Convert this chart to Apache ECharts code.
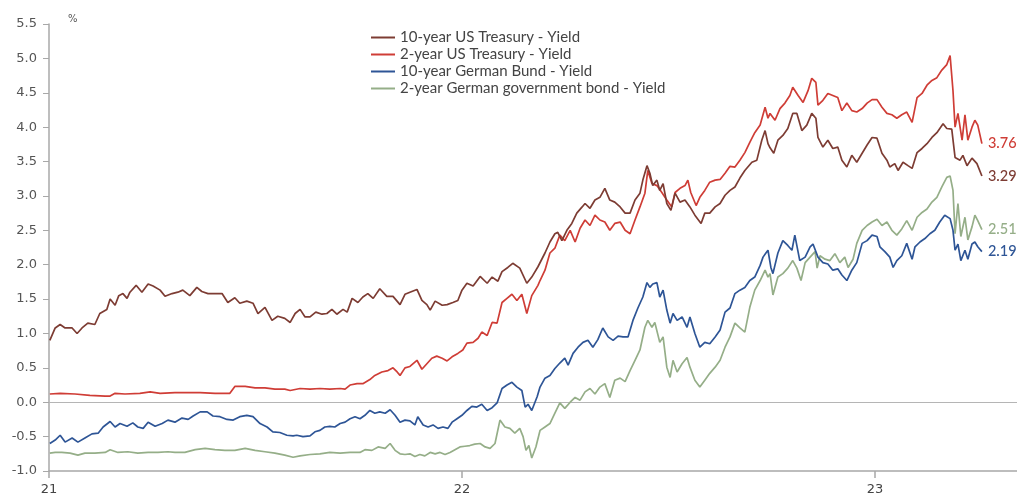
<!DOCTYPE html>
<html>
<head>
<meta charset="utf-8">
<script src="https://cdn.jsdelivr.net/npm/echarts@6/dist/echarts.min.js"></script>
<style>
html,body{margin:0;padding:0;background:#fff;}
#chart{width:1017px;height:498px;}
</style>
</head>
<body>
<div id="chart"></div>
<script>
// x values: years since 1 Jan 2021; y values: yield in %
const baseYear = 2021;
const seriesNames = ['10-year US Treasury - Yield', '2-year US Treasury - Yield', '10-year German Bund - Yield', '2-year German government bond - Yield'];
const xTickLabels = [2021, 2022, 2023];
const yTicks = { min: -1, max: 5.5, step: 0.5 };

const us10y = [[.002,.90],[.015,1.08],[.027,1.13],[.039,1.08],[.056,1.08],[.068,1.00],[.080,1.08],[.094,1.15],[.111,1.13],[.123,1.29],[.140,1.35],[.148,1.50],[.160,1.41],[.169,1.55],[.179,1.58],[.189,1.51],[.196,1.60],[.211,1.70],[.225,1.60],[.240,1.72],[.252,1.69],[.269,1.63],[.281,1.54],[.298,1.58],[.312,1.60],[.324,1.63],[.341,1.55],[.358,1.67],[.370,1.61],[.385,1.58],[.402,1.58],[.419,1.58],[.433,1.45],[.450,1.52],[.462,1.44],[.479,1.47],[.494,1.44],[.506,1.29],[.523,1.38],[.540,1.19],[.554,1.25],[.571,1.22],[.584,1.16],[.596,1.29],[.608,1.35],[.620,1.24],[.632,1.24],[.646,1.31],[.661,1.28],[.673,1.29],[.685,1.35],[.697,1.28],[.712,1.35],[.722,1.31],[.734,1.51],[.748,1.45],[.760,1.53],[.772,1.58],[.785,1.51],[.801,1.65],[.818,1.54],[.833,1.54],[.850,1.42],[.862,1.57],[.874,1.60],[.891,1.64],[.903,1.48],[.915,1.42],[.923,1.34],[.935,1.47],[.952,1.41],[.964,1.42],[.978,1.45],[.990,1.48],[1.000,1.63],[1.012,1.73],[1.027,1.69],[1.044,1.83],[1.061,1.73],[1.073,1.82],[1.087,1.76],[1.097,1.90],[1.111,1.96],[1.123,2.02],[1.140,1.95],[1.157,1.73],[1.169,1.82],[1.184,1.97],[1.201,2.17],[1.213,2.33],[1.225,2.45],[1.232,2.47],[1.242,2.35],[1.254,2.50],[1.266,2.60],[1.278,2.75],[1.291,2.84],[1.298,2.89],[1.310,2.82],[1.322,2.94],[1.334,2.98],[1.346,3.11],[1.358,2.94],[1.370,2.91],[1.383,2.84],[1.395,2.75],[1.407,2.75],[1.419,2.94],[1.431,3.04],[1.438,3.23],[1.448,3.44],[1.455,3.33],[1.462,3.15],[1.472,3.23],[1.479,3.08],[1.487,3.18],[1.496,2.89],[1.506,2.79],[1.516,3.04],[1.528,2.91],[1.540,2.94],[1.552,2.84],[1.564,2.72],[1.579,2.60],[1.588,2.75],[1.600,2.75],[1.613,2.84],[1.625,2.89],[1.637,3.01],[1.649,3.08],[1.661,3.13],[1.673,3.26],[1.685,3.37],[1.702,3.49],[1.714,3.52],[1.726,3.81],[1.734,3.95],[1.741,3.76],[1.746,3.70],[1.755,3.62],[1.765,3.81],[1.777,3.88],[1.789,3.98],[1.801,4.20],[1.811,4.20],[1.823,3.95],[1.835,4.03],[1.847,4.20],[1.857,4.13],[1.862,3.85],[1.874,3.71],[1.886,3.81],[1.898,3.69],[1.910,3.71],[1.920,3.52],[1.932,3.42],[1.944,3.59],[1.956,3.49],[1.969,3.62],[1.981,3.74],[1.993,3.85],[2.005,3.84],[2.017,3.62],[2.029,3.52],[2.036,3.42],[2.048,3.47],[2.056,3.37],[2.068,3.49],[2.080,3.44],[2.090,3.40],[2.102,3.63],[2.114,3.69],[2.126,3.76],[2.138,3.85],[2.150,3.92],[2.165,4.05],[2.174,3.98],[2.186,3.97],[2.194,3.56],[2.206,3.52],[2.213,3.59],[2.223,3.44],[2.235,3.55],[2.247,3.47],[2.259,3.29]];

const us2y = [[.002,.12],[.027,.13],[.063,.12],[.099,.10],[.136,.09],[.148,.09],[.160,.13],[.184,.12],[.220,.13],[.245,.15],[.269,.13],[.305,.14],[.329,.14],[.366,.14],[.402,.13],[.438,.13],[.450,.23],[.475,.23],[.499,.21],[.523,.21],[.547,.19],[.571,.19],[.584,.17],[.608,.20],[.632,.19],[.656,.20],[.680,.19],[.705,.20],[.717,.19],[.729,.25],[.746,.27],[.760,.27],[.777,.33],[.789,.39],[.806,.44],[.821,.46],[.833,.50],[.843,.44],[.850,.39],[.862,.50],[.874,.52],[.891,.61],[.903,.48],[.915,.56],[.927,.64],[.939,.67],[.952,.64],[.964,.60],[.976,.66],[.990,.71],[1.002,.76],[1.012,.86],[1.027,.87],[1.039,.93],[1.048,1.02],[1.061,.97],[1.073,1.16],[1.085,1.15],[1.097,1.45],[1.109,1.51],[1.121,1.57],[1.133,1.48],[1.145,1.57],[1.157,1.29],[1.169,1.55],[1.184,1.70],[1.189,1.77],[1.201,1.92],[1.213,2.17],[1.225,2.24],[1.237,2.43],[1.249,2.35],[1.262,2.50],[1.274,2.33],[1.286,2.53],[1.298,2.65],[1.310,2.57],[1.322,2.72],[1.334,2.65],[1.346,2.62],[1.358,2.50],[1.370,2.60],[1.383,2.62],[1.395,2.50],[1.407,2.45],[1.419,2.65],[1.431,2.84],[1.443,3.04],[1.450,3.37],[1.460,3.18],[1.472,3.15],[1.484,3.05],[1.496,2.94],[1.508,2.84],[1.516,3.05],[1.528,3.11],[1.540,3.15],[1.547,3.23],[1.554,3.05],[1.567,2.86],[1.576,2.98],[1.588,3.08],[1.600,3.20],[1.613,3.23],[1.625,3.24],[1.637,3.33],[1.649,3.43],[1.661,3.42],[1.673,3.52],[1.685,3.63],[1.697,3.78],[1.709,3.92],[1.722,4.03],[1.734,4.29],[1.741,4.13],[1.746,4.20],[1.758,4.10],[1.770,4.27],[1.782,4.35],[1.794,4.46],[1.801,4.58],[1.814,4.46],[1.826,4.36],[1.838,4.53],[1.847,4.71],[1.857,4.65],[1.862,4.32],[1.874,4.39],[1.886,4.49],[1.898,4.46],[1.910,4.43],[1.920,4.24],[1.932,4.35],[1.944,4.24],[1.956,4.22],[1.969,4.27],[1.981,4.35],[1.993,4.40],[2.005,4.40],[2.017,4.29],[2.029,4.20],[2.041,4.18],[2.053,4.13],[2.065,4.18],[2.077,4.22],[2.090,4.07],[2.102,4.43],[2.114,4.49],[2.126,4.61],[2.138,4.68],[2.150,4.72],[2.162,4.83],[2.174,4.91],[2.182,5.04],[2.189,4.53],[2.194,4.00],[2.201,4.20],[2.211,3.81],[2.218,4.18],[2.225,3.81],[2.235,4.00],[2.242,4.10],[2.249,4.03],[2.259,3.76]];

const de10y = [[.002,-.60],[.015,-.55],[.027,-.48],[.039,-.58],[.056,-.52],[.070,-.58],[.087,-.52],[.104,-.46],[.119,-.45],[.131,-.36],[.148,-.28],[.160,-.36],[.172,-.31],[.189,-.35],[.203,-.30],[.215,-.36],[.228,-.38],[.240,-.29],[.257,-.35],[.274,-.31],[.288,-.26],[.305,-.29],[.322,-.23],[.337,-.25],[.349,-.20],[.366,-.14],[.383,-.14],[.397,-.20],[.414,-.21],[.431,-.25],[.446,-.26],[.462,-.21],[.479,-.19],[.494,-.21],[.511,-.31],[.528,-.36],[.542,-.43],[.559,-.44],[.576,-.48],[.591,-.49],[.600,-.48],[.615,-.50],[.632,-.49],[.644,-.43],[.656,-.41],[.668,-.36],[.680,-.35],[.692,-.36],[.705,-.31],[.717,-.29],[.729,-.24],[.741,-.21],[.753,-.24],[.765,-.19],[.777,-.12],[.789,-.16],[.801,-.14],[.814,-.16],[.826,-.11],[.838,-.19],[.850,-.29],[.862,-.26],[.874,-.27],[.886,-.33],[.893,-.21],[.906,-.33],[.918,-.36],[.930,-.33],[.942,-.38],[.954,-.36],[.966,-.38],[.976,-.29],[.988,-.24],[1.000,-.19],[1.012,-.12],[1.024,-.06],[1.036,-.07],[1.048,-.03],[1.061,-.12],[1.073,-.08],[1.085,-.01],[1.097,.20],[1.109,.25],[1.121,.29],[1.133,.22],[1.145,.17],[1.153,-.07],[1.160,-.03],[1.169,-.12],[1.182,.08],[1.189,.22],[1.201,.35],[1.213,.39],[1.225,.49],[1.237,.57],[1.249,.64],[1.257,.54],[1.269,.71],[1.281,.80],[1.293,.87],[1.305,.90],[1.317,.80],[1.329,.91],[1.341,1.08],[1.354,.95],[1.366,.90],[1.378,.96],[1.390,.95],[1.402,.95],[1.414,1.19],[1.426,1.37],[1.438,1.53],[1.448,1.74],[1.455,1.67],[1.462,1.72],[1.472,1.74],[1.479,1.53],[1.487,1.63],[1.496,1.34],[1.504,1.15],[1.511,1.29],[1.521,1.19],[1.533,1.24],[1.545,1.09],[1.552,1.24],[1.564,1.00],[1.576,.80],[1.588,.87],[1.600,.85],[1.613,.95],[1.625,1.05],[1.637,1.31],[1.649,1.37],[1.661,1.58],[1.673,1.63],[1.685,1.67],[1.697,1.77],[1.709,1.82],[1.722,1.99],[1.729,2.11],[1.736,2.17],[1.741,2.21],[1.748,1.96],[1.753,1.87],[1.765,2.17],[1.777,2.35],[1.789,2.28],[1.799,2.21],[1.806,2.43],[1.818,2.06],[1.831,2.11],[1.843,2.26],[1.850,2.30],[1.862,2.11],[1.874,2.03],[1.886,2.01],[1.898,1.92],[1.910,1.94],[1.920,1.85],[1.932,1.77],[1.944,1.92],[1.956,2.03],[1.969,2.31],[1.981,2.35],[1.993,2.43],[2.005,2.41],[2.012,2.26],[2.024,2.19],[2.036,2.11],[2.044,1.96],[2.053,2.06],[2.065,2.13],[2.077,2.31],[2.090,2.08],[2.097,2.26],[2.109,2.33],[2.121,2.38],[2.133,2.45],[2.145,2.50],[2.157,2.62],[2.169,2.72],[2.182,2.67],[2.189,2.50],[2.194,2.21],[2.201,2.30],[2.208,2.06],[2.218,2.21],[2.225,2.08],[2.235,2.30],[2.242,2.33],[2.249,2.26],[2.259,2.19]];

const de2y = [[.002,-.74],[.015,-.73],[.031,-.73],[.051,-.74],[.070,-.77],[.087,-.74],[.111,-.74],[.136,-.73],[.148,-.69],[.167,-.73],[.191,-.72],[.215,-.74],[.240,-.73],[.264,-.73],[.288,-.72],[.305,-.73],[.329,-.73],[.354,-.69],[.378,-.67],[.402,-.69],[.426,-.70],[.450,-.70],[.475,-.67],[.499,-.70],[.523,-.72],[.547,-.74],[.571,-.77],[.591,-.80],[.608,-.78],[.632,-.76],[.656,-.75],[.680,-.73],[.705,-.74],[.729,-.73],[.753,-.73],[.765,-.69],[.782,-.70],[.797,-.65],[.814,-.67],[.826,-.60],[.838,-.70],[.850,-.75],[.862,-.76],[.874,-.75],[.886,-.79],[.898,-.76],[.910,-.78],[.923,-.73],[.935,-.75],[.947,-.73],[.959,-.76],[.971,-.73],[.983,-.69],[.995,-.65],[1.007,-.64],[1.019,-.63],[1.031,-.61],[1.044,-.60],[1.056,-.65],[1.068,-.67],[1.080,-.60],[1.092,-.26],[1.104,-.36],[1.116,-.38],[1.128,-.45],[1.140,-.38],[1.148,-.50],[1.155,-.70],[1.162,-.63],[1.169,-.81],[1.179,-.65],[1.189,-.41],[1.201,-.36],[1.213,-.31],[1.225,-.16],[1.237,-.01],[1.249,-.09],[1.262,.00],[1.274,.07],[1.286,.03],[1.298,.15],[1.310,.20],[1.322,.12],[1.334,.22],[1.346,.27],[1.358,.07],[1.370,.32],[1.383,.35],[1.395,.30],[1.407,.46],[1.419,.61],[1.431,.76],[1.443,1.09],[1.450,1.19],[1.460,1.09],[1.467,1.16],[1.479,.87],[1.487,.95],[1.496,.51],[1.504,.36],[1.511,.61],[1.521,.44],[1.533,.56],[1.545,.65],[1.552,.51],[1.564,.32],[1.576,.22],[1.588,.32],[1.600,.42],[1.613,.51],[1.625,.61],[1.637,.80],[1.649,.95],[1.661,1.15],[1.673,1.08],[1.685,1.02],[1.697,1.38],[1.709,1.63],[1.722,1.77],[1.734,1.92],[1.741,1.82],[1.746,1.87],[1.753,1.56],[1.765,1.82],[1.777,1.87],[1.789,1.95],[1.801,2.06],[1.811,1.95],[1.821,1.77],[1.831,2.03],[1.843,2.11],[1.855,2.19],[1.860,1.95],[1.867,2.13],[1.879,2.08],[1.891,2.06],[1.903,2.16],[1.915,2.03],[1.927,2.11],[1.935,1.96],[1.947,2.08],[1.956,2.31],[1.969,2.50],[1.981,2.57],[1.993,2.62],[2.005,2.66],[2.017,2.57],[2.029,2.62],[2.041,2.50],[2.053,2.43],[2.065,2.52],[2.077,2.64],[2.090,2.50],[2.102,2.69],[2.114,2.76],[2.126,2.81],[2.138,2.91],[2.150,2.98],[2.162,3.13],[2.174,3.27],[2.182,3.29],[2.189,3.08],[2.194,2.45],[2.201,2.89],[2.208,2.41],[2.218,2.69],[2.225,2.36],[2.235,2.55],[2.242,2.72],[2.249,2.64],[2.259,2.51]];

const seriesData = [us10y, us2y, de10y, de2y];
const colors = ['#7d3c33', '#cf3d36', '#2e5596', '#95ae88'];

const chart = echarts.init(document.getElementById('chart'), null, { renderer: 'canvas' });
const labelFont = 'Lato';
const series = seriesNames.map((name, i) => ({
  name,
  type: 'line',
  data: seriesData[i].map(p => [baseYear + p[0], p[1]]),
  showSymbol: false,
  symbol: 'none',
  lineStyle: { color: colors[i], width: 1.7 },
  itemStyle: { color: colors[i] },
  z: 10 - i,
  endLabel: {
    show: true,
    formatter: p => p.value[1].toFixed(2),
    color: colors[i],
    fontFamily: labelFont,
    fontSize: 14.5,
    fontWeight: 500,
    distance: 6
  },
  markLine: i === 0 ? {
    silent: true,
    symbol: 'none',
    label: { show: false },
    lineStyle: { color: '#b5b5b5', width: 1, type: 'solid' },
    data: [{ yAxis: 0 }],
    z: 1
  } : undefined
}));

chart.setOption({
  animation: false,
  backgroundColor: '#fff',
  grid: { left: 49, right: 0, top: 24, bottom: 27, containLabel: false },
  legend: {
    orient: 'vertical',
    left: 366,
    top: 24,
    itemWidth: 24,
    itemHeight: 2,
    itemGap: 0,
    icon: 'rect',
    textStyle: { fontFamily: labelFont, fontSize: 15, color: '#444', lineHeight: 17 },
    data: seriesNames
  },
  xAxis: {
    type: 'value',
    min: baseYear,
    max: baseYear + 2.344,
    interval: 1,
    axisLine: { show: true, onZero: false, lineStyle: { color: '#a8a8a8', width: 1.5 } },
    axisTick: { show: true, length: 7, customValues: xTickLabels, lineStyle: { color: '#a8a8a8', width: 1.5 } },
    axisLabel: { customValues: xTickLabels, formatter: v => String(Math.round(v)).slice(2), fontFamily: 'DejaVu Sans', fontSize: 13, color: '#444', margin: 12 },
    splitLine: { show: false }
  },
  yAxis: {
    type: 'value',
    min: yTicks.min,
    max: yTicks.max,
    interval: yTicks.step,
    axisLine: { show: true, onZero: false, lineStyle: { color: '#a8a8a8', width: 1.5 } },
    axisTick: { show: true, length: 6, lineStyle: { color: '#a8a8a8' } },
    axisLabel: { formatter: v => v.toFixed(1), fontFamily: 'DejaVu Sans', fontSize: 13, color: '#555', margin: 12 },
    splitLine: { show: false }
  },
  graphic: [{
    type: 'text', left: 68, top: 14,
    style: { text: '%', fontFamily: 'DejaVu Sans', fontSize: 10, fill: '#555' }
  }],
  series
});
</script>
</body>
</html>
